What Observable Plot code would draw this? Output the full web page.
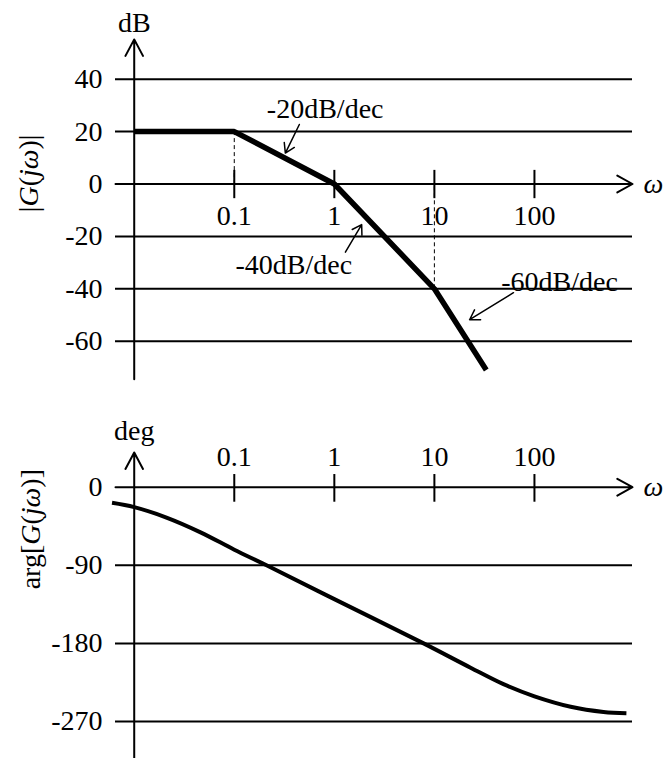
<!DOCTYPE html>
<html>
<head>
<meta charset="utf-8">
<script src="https://cdn.jsdelivr.net/npm/d3@7"></script>
<script src="https://cdn.jsdelivr.net/npm/@observablehq/plot@0.6"></script>
<style>
  html, body { margin: 0; padding: 0; background: #fff; }
  #chart { width: 663px; }
  #chart svg { display: block; }
</style>
</head>
<body>
<div id="chart"></div>
<script>
// ---------- data ----------
const magOmega = [0.01, 0.1, 1, 10, 33];
const magDb = [20, 20, 0, -40, -71];

const phaseOmega = [0.006, 0.01, 0.021, 0.046, 0.1, 0.21, 1, 7.8, 23, 49, 100, 230, 490, 830];
const phaseDeg = [-18, -23, -35, -52, -72, -90, -129, -180, -208, -227, -241, -253, -259, -260.5];

const freqTicks = [0.1, 1, 10, 100];
const freqTickLabels = ["0.1", "1", "10", "100"];
const dbTicks = [40, 20, 0, -20, -40, -60];
const degTicks = [0, -90, -180, -270];
const breakOmega = [0.1, 10];

const slopeLabels = ["-20dB/dec", "-40dB/dec", "-60dB/dec"];
const slopeLabelOmega = [0.81, 0.394, 178];
const slopeLabelDb = [28.6, -31.1, -37.5];
const slopeArrowFromOmega = [0.447, 1.29, 61.7];
const slopeArrowFromDb = [22.7, -26, -41.5];
const slopeArrowToOmega = [0.324, 1.876, 22.5];
const slopeArrowToDb = [11.8, -15.5, -51.8];

const magUnit = "dB";
const phaseUnit = "deg";
const freqSymbol = "ω";
const magTitleParts = [["|", false], ["G", true], ["(", false], ["jω", true], [")", false], ["|", false]];
const phaseTitleParts = [["arg[", false], ["G", true], ["(", false], ["jω", true], [")]", false]];

// ---------- layout / style ----------
const W = 663;
const xDomain = [0.0065, 955];
const axisOmega = 0.01;
const FONT = "'Liberation Serif', 'Times New Roman', serif";
const FS = 28;
const style = {fontFamily: FONT, fontSize: FS + "px", background: "#fff", color: "#000", overflow: "visible"};

const magData = magOmega.map((w, i) => ({w, v: magDb[i]}));
const phaseData = phaseOmega.map((w, i) => ({w, v: phaseDeg[i]}));
const magAt = w => magData.find(d => d.w === w).v;
const slopes = slopeLabels.map((t, i) => ({
  t, lx: slopeLabelOmega[i], ly: slopeLabelDb[i],
  x1: slopeArrowFromOmega[i], y1: slopeArrowFromDb[i],
  x2: slopeArrowToOmega[i], y2: slopeArrowToDb[i]
}));
const magTitle = magTitleParts.map(p => p[0]).join("");
const phaseTitle = phaseTitleParts.map(p => p[0]).join("");

function italicize(svg, label, parts) {
  d3.select(svg).selectAll("text").filter(function () { return this.textContent === label; })
    .each(function () {
      const t = d3.select(this);
      t.text(null);
      parts.forEach(([s, it]) => t.append("tspan").attr("font-style", it ? "italic" : "normal").text(s));
    });
}

// ---------- magnitude plot ----------
const topPlot = Plot.plot({
  width: W, height: 390,
  marginLeft: 115, marginRight: 31, marginTop: 78.7, marginBottom: 49.3,
  x: {type: "log", domain: xDomain, axis: null},
  y: {domain: [-60, 40], axis: null},
  style,
  marks: [
    Plot.ruleY(dbTicks.filter(d => d !== 0), {y: d => d, stroke: "#000", strokeWidth: 2}),
    Plot.arrow([{a: xDomain[0], b: xDomain[1]}], {x1: "a", x2: "b", y1: () => 0, y2: () => 0, stroke: "#000", strokeWidth: 2, headLength: 13, headAngle: 58}),
    Plot.arrow([{a: -74.5, b: 55.2}], {x1: () => axisOmega, x2: () => axisOmega, y1: "a", y2: "b", stroke: "#000", strokeWidth: 2, headLength: 14, headAngle: 56}),
    Plot.ruleX(breakOmega, {x: d => d, y1: d => magAt(d), y2: () => 0, stroke: "#000", strokeWidth: 1, strokeDasharray: "4,3"}),
    Plot.ruleX(freqTicks, {x: d => d, y1: () => 5.2, y2: () => -5.6, stroke: "#000", strokeWidth: 2}),
    Plot.text(freqTicks, {x: d => d, y: () => 0, text: (d, i) => freqTickLabels[i], dy: 32, fill: "#000"}),
    Plot.text(dbTicks, {x: () => xDomain[0], y: d => d, text: d => String(d), textAnchor: "end", dx: -13, fill: "#000"}),
    Plot.text([magUnit], {x: () => axisOmega, y: () => 61.3, text: d => d, fill: "#000"}),
    Plot.text([freqSymbol], {x: () => xDomain[1], y: () => 0, text: d => d, textAnchor: "start", dx: 11, fontStyle: "italic", fill: "#000"}),
    Plot.text([magTitle], {frameAnchor: "left", text: d => d, rotate: -90, dx: -86, dy: 2, fill: "#000"}),
    Plot.line(magData, {x: "w", y: "v", stroke: "#000", strokeWidth: 5.5, strokeLinecap: "butt", strokeLinejoin: "miter"}),
    Plot.arrow(slopes, {x1: "x1", y1: "y1", x2: "x2", y2: "y2", stroke: "#000", strokeWidth: 1.5, headLength: 11, headAngle: 64}),
    Plot.text(slopes, {x: "lx", y: "ly", text: "t", fill: "#000"})
  ]
});
italicize(topPlot, magTitle, magTitleParts);

// ---------- phase plot ----------
const botPlot = Plot.plot({
  width: W, height: 368,
  marginLeft: 115, marginRight: 31, marginTop: 96.7, marginBottom: 37,
  x: {type: "log", domain: xDomain, axis: null},
  y: {domain: [-270, 0], axis: null},
  style,
  marks: [
    Plot.ruleY(degTicks.filter(d => d !== 0), {y: d => d, stroke: "#000", strokeWidth: 2}),
    Plot.arrow([{a: xDomain[0], b: xDomain[1]}], {x1: "a", x2: "b", y1: () => 0, y2: () => 0, stroke: "#000", strokeWidth: 2, headLength: 13, headAngle: 58}),
    Plot.arrow([{a: -313, b: 40}], {x1: () => axisOmega, x2: () => axisOmega, y1: "a", y2: "b", stroke: "#000", strokeWidth: 2, headLength: 14, headAngle: 56}),
    Plot.ruleX(freqTicks, {x: d => d, y1: () => 14.6, y2: () => -17.3, stroke: "#000", strokeWidth: 2}),
    Plot.text(freqTicks, {x: d => d, y: () => 0, text: (d, i) => freqTickLabels[i], dy: -30, fill: "#000"}),
    Plot.text(degTicks, {x: () => xDomain[0], y: d => d, text: d => String(d), textAnchor: "end", dx: -13, fill: "#000"}),
    Plot.text([phaseUnit], {x: () => axisOmega, y: () => 64.2, text: d => d, fill: "#000"}),
    Plot.text([freqSymbol], {x: () => xDomain[1], y: () => 0, text: d => d, textAnchor: "start", dx: 11, fontStyle: "italic", fill: "#000"}),
    Plot.text([phaseTitle], {frameAnchor: "left", text: d => d, rotate: -90, dx: -84, dy: -15, fill: "#000"}),
    Plot.line(phaseData, {x: "w", y: "v", stroke: "#000", strokeWidth: 4, curve: "catmull-rom", strokeLinecap: "butt"})
  ]
});
italicize(botPlot, phaseTitle, phaseTitleParts);

const chart = document.getElementById("chart");
chart.appendChild(topPlot);
chart.appendChild(botPlot);
</script>
</body>
</html>
